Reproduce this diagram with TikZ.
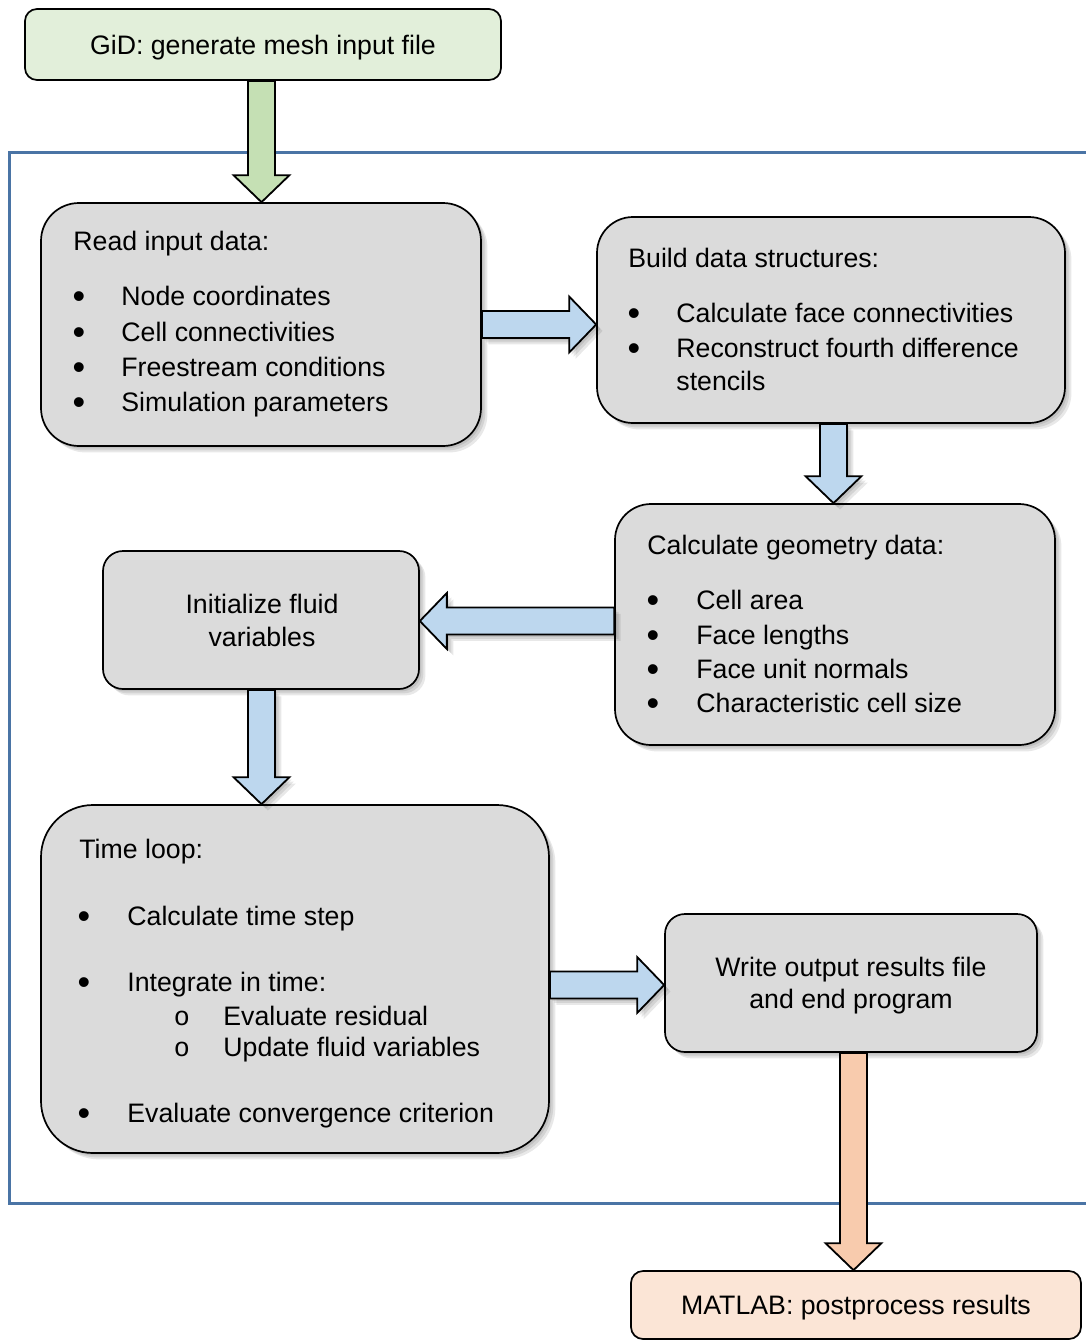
\documentclass[tikz,border=0pt]{standalone}
\usepackage{fontspec}
\setmainfont{Liberation Sans}
\newfontfamily\subbulfont{Liberation Mono}
\usetikzlibrary{fit,calc}
\definecolor{boxgray}{HTML}{DBDBDB}
\definecolor{gidgreen}{HTML}{E2EFDA}
\definecolor{arrgreen}{HTML}{C5E0B4}
\definecolor{arrblue}{HTML}{BDD7EE}
\definecolor{arrorange}{HTML}{F8CBAD}
\definecolor{matorange}{HTML}{FBE5D6}
\definecolor{framblue}{HTML}{4A74A5}
% block arrows: style, start point, end point (tip)
\newcommand\blkD[3]{\draw[#1] let \p1=(#2), \p2=(#3) in
  (\x1-6.75pt,\y1) -- (\x1-6.75pt,\y2+13.5pt) -- (\x1-14pt,\y2+13.5pt) -- (\x1,\y2)
  -- (\x1+14pt,\y2+13.5pt) -- (\x1+6.75pt,\y2+13.5pt) -- (\x1+6.75pt,\y1) -- cycle;}
\newcommand\blkR[3]{\draw[#1] let \p1=(#2), \p2=(#3) in
  (\x1,\y1+6.75pt) -- (\x2-13.5pt,\y1+6.75pt) -- (\x2-13.5pt,\y1+14pt) -- (\x2,\y1)
  -- (\x2-13.5pt,\y1-14pt) -- (\x2-13.5pt,\y1-6.75pt) -- (\x1,\y1-6.75pt) -- cycle;}
\newcommand\blkL[3]{\draw[#1] let \p1=(#2), \p2=(#3) in
  (\x1,\y1+6.75pt) -- (\x2+13.5pt,\y1+6.75pt) -- (\x2+13.5pt,\y1+14pt) -- (\x2,\y1)
  -- (\x2+13.5pt,\y1-14pt) -- (\x2+13.5pt,\y1-6.75pt) -- (\x1,\y1-6.75pt) -- cycle;}
\begin{document}
\begin{tikzpicture}[x=0.5pt,y=-0.5pt,
  font=\fontsize{13.35}{16}\selectfont,
  softshadow/.style={
    preaction={fill=black,opacity=0.09,transform canvas={shift={(1.2pt,-1.2pt)}}},
    preaction={fill=black,opacity=0.09,transform canvas={shift={(2.2pt,-2.2pt)}}},
    preaction={fill=black,opacity=0.09,transform canvas={shift={(3.2pt,-3.2pt)}}}},
  box/.style={draw=black, line width=0.85pt, inner sep=0pt},
  graybox/.style={box, fill=boxgray, softshadow},
  txt/.style={anchor=base west, inner sep=0pt},
  ctxt/.style={anchor=base, inner sep=0pt},
  bul/.style={anchor=base, inner sep=0pt, font=\fontsize{18}{18}\selectfont, yshift=-1.6pt},
  subbul/.style={anchor=base, inner sep=0pt, font=\subbulfont\fontsize{13.35}{16}\selectfont},
  arrbase/.style={draw=black, line width=0.9pt, line join=miter},
]
\useasboundingbox (0,0) rectangle (1086,1340);
\clip (0,0) rectangle (1086,1340);

% frame
\draw[framblue, line width=1.5pt] (1100,152) -- (9,152) -- (9,1203) -- (1100,1203);

% boxes
\node[box, fill=gidgreen, rounded corners=6pt, fit={(25,9) (501,80)}] (gid) {};
\node[graybox, rounded corners=19pt, fit={(41,203) (481,446)}] (read) {};
\node[graybox, rounded corners=18pt, fit={(597,217) (1065,423)}] (build) {};
\node[graybox, rounded corners=18pt, fit={(615,504) (1055,745)}] (geom) {};
\node[graybox, rounded corners=10pt, fit={(103,551) (419,689)}] (init) {};
\node[graybox, rounded corners=26pt, fit={(41,805) (549,1153)}] (time) {};
\node[graybox, rounded corners=10pt, fit={(665,914) (1037,1052)}] (write) {};
\node[box, fill=matorange, rounded corners=6pt, fit={(631,1271) (1081,1339)}] (matlab) {};

% texts
\node[ctxt] (gidT) at (263,54) {GiD: generate mesh input file};

\node[txt] (readT) at (73,250) {Read input data:};
\node[bul] (rb1) at (79,305) {•}; \node[txt] (r1) at (121,305) {Node coordinates};
\node[bul] (rb2) at (79,341) {•}; \node[txt] (r2) at (121,341) {Cell connectivities};
\node[bul] (rb3) at (79,376) {•}; \node[txt] (r3) at (121,376) {Freestream conditions};
\node[bul] (rb4) at (79,411) {•}; \node[txt] (r4) at (121,411) {Simulation parameters};

\node[txt] (buildT) at (628,267) {Build data structures:};
\node[bul] (bb1) at (634,322) {•}; \node[txt] (b1) at (676,322) {Calculate face connectivities};
\node[bul] (bb2) at (634,357) {•}; \node[txt] (b2) at (676,357) {Reconstruct fourth difference};
\node[txt] (b3) at (676,390) {stencils};

\node[txt] (geomT) at (647,554) {Calculate geometry data:};
\node[bul] (gb1) at (653,609) {•}; \node[txt] (g1) at (696,609) {Cell area};
\node[bul] (gb2) at (653,644) {•}; \node[txt] (g2) at (696,644) {Face lengths};
\node[bul] (gb3) at (653,678) {•}; \node[txt] (g3) at (696,678) {Face unit normals};
\node[bul] (gb4) at (653,712) {•}; \node[txt] (g4) at (696,712) {Characteristic cell size};

\node[ctxt] (i1) at (262,613) {Initialize fluid};
\node[ctxt] (i2) at (262,646) {variables};

\node[txt] (timeT) at (79,858) {Time loop:};
\node[bul] (tb1) at (84,925) {•}; \node[txt] (t1) at (127,925) {Calculate time step};
\node[bul] (tb2) at (84,991) {•}; \node[txt] (t2) at (127,991) {Integrate in time:};
\node[subbul] (ts1) at (182,1025) {o}; \node[txt] (t3) at (223,1025) {Evaluate residual};
\node[subbul] (ts2) at (182,1056) {o}; \node[txt] (t4) at (223,1056) {Update fluid variables};
\node[bul] (tb3) at (84,1122) {•}; \node[txt] (t5) at (127,1122) {Evaluate convergence criterion};

\node[ctxt] (w1) at (851,976) {Write output results file};
\node[ctxt] (w2) at (851,1008) {and end program};

\node[ctxt] (matT) at (856,1314) {MATLAB: postprocess results};

% block arrows
\blkD{arrbase, fill=arrgreen}{$(gid.south)+(-1.5,0)$}{read.north}
\blkR{arrbase, fill=arrblue, softshadow}{read.east}{build.west}
\blkD{arrbase, fill=arrblue, softshadow}{$(build.south)+(2.5,0)$}{geom.north}
\blkL{arrbase, fill=arrblue, softshadow}{$(geom.west)+(0,-3.5)$}{init.east}
\blkD{arrbase, fill=arrblue, softshadow}{$(init.south)+(0.5,0)$}{time.north}
\blkR{arrbase, fill=arrblue, softshadow}{$(time.east)+(0,6)$}{write.west}
\blkD{arrbase, fill=arrorange}{$(write.south)+(2.5,0)$}{matlab.north}
\end{tikzpicture}
\end{document}
